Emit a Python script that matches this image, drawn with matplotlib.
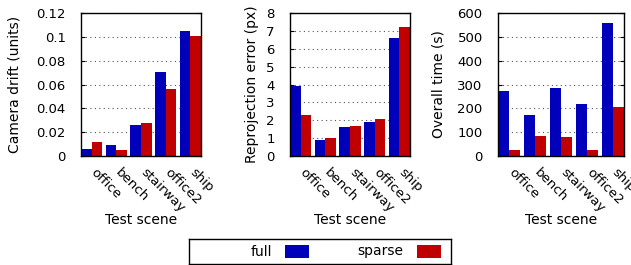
import matplotlib.pyplot as plt
import matplotlib.transforms as mtransforms
from matplotlib.patches import Rectangle

scenes = ['office', 'bench', 'stairway', 'office2', 'ship']

drift_full = [0.0061, 0.0095, 0.026, 0.0704, 0.1047]
drift_sparse = [0.012, 0.0053, 0.028, 0.056, 0.1008]

reproj_full = [3.92, 0.91, 1.6, 1.91, 6.59]
reproj_sparse = [2.3, 1.02, 1.69, 2.08, 7.2]

time_full = [274, 173, 287, 220, 559]
time_sparse = [27, 85, 81, 27, 207]

series_names = ['full', 'sparse']

blue = '#0000bb'
red = '#c00000'

plt.rcParams['font.size'] = 9.5
plt.rcParams['font.family'] = 'DejaVu Sans'

fig = plt.figure(figsize=(6.31, 2.65), dpi=100)
W, H = 631., 265.

# axes boxes in pixels (left, right) and y-label centre
boxes = [(81, 201, 15), (290, 410, 252), (498, 624, 438)]
top, bottom = 13, 156

panels = [
	(drift_full, drift_sparse, 'Camera drift (units)', (0, 0.12), [0, 0.02, 0.04, 0.06, 0.08, 0.1, 0.12],
	 ['0', '0.02', '0.04', '0.06', '0.08', '0.1', '0.12']),
	(reproj_full, reproj_sparse, 'Reprojection error (px)', (0, 8), list(range(0, 9)),
	 [str(v) for v in range(0, 9)]),
	(time_full, time_sparse, 'Overall time (s)', (0, 600), list(range(0, 601, 100)),
	 [str(v) for v in range(0, 601, 100)]),
]

w = 0.43
x = list(range(len(scenes)))
# gnuplot-like rotated scene labels: offset from the group centre below the axis
shift = mtransforms.ScaledTranslation(6 / 100., -10 / 100., fig.dpi_scale_trans)
for (l, r, yl), (full, sparse, ylab, ylim, yt, ytl) in zip(boxes, panels):
	aw = r - l
	ax = fig.add_axes([l / W, 1 - bottom / H, aw / W, (bottom - top) / H])
	ax.bar([i - w / 2 for i in x], full, width=w, color=blue, zorder=3)
	ax.bar([i + w / 2 for i in x], sparse, width=w, color=red, zorder=3)
	ax.set_xlim(-w, len(scenes) - 1 + w)
	ax.set_ylim(*ylim)
	ax.set_yticks(yt)
	ax.set_yticklabels(ytl)
	ax.set_xticks(x)
	ax.set_xticklabels([])
	for i, name in zip(x, scenes):
		ax.text(i, 0, name, rotation=-45, ha='left', va='top', rotation_mode='anchor',
		        transform=ax.get_xaxis_transform() + shift, clip_on=False)
	ax.tick_params(axis='x', length=0, pad=5)
	ax.tick_params(axis='y', direction='in', right=True, length=3, pad=11)
	ax.yaxis.grid(True, linestyle=(0, (1, 3)), color='#555555', linewidth=0.8, zorder=0)
	ax.set_ylabel(ylab, va='center', fontsize=10)
	ax.yaxis.set_label_coords((yl - l) / aw, 0.5)
	ax.set_xlabel('Test scene', va='center', fontsize=10)
	ax.xaxis.set_label_coords(0.5, -(220 - bottom) / (bottom - top))
	for s in ax.spines.values():
		s.set_linewidth(1.0)
		s.set_zorder(4)

# legend box drawn by hand, gnuplot style (text then sample)
lx0, lx1, ly0, ly1 = 189, 451, 239, 264
lax = fig.add_axes([lx0 / W, 1 - ly1 / H, (lx1 - lx0) / W, (ly1 - ly0) / H])
lax.set_xlim(lx0, lx1)
lax.set_ylim(ly1, ly0)
lax.set_xticks([])
lax.set_yticks([])
for s in lax.spines.values():
	s.set_linewidth(1.0)
entries = [(series_names[0], blue, 272, 285), (series_names[1], red, 403, 417)]
for name, col, tx, sx in entries:
	lax.text(tx, 251.5, name, ha='right', va='center', fontsize=10)
	lax.add_patch(Rectangle((sx, 245), 24, 13, facecolor=col, edgecolor='none'))

plt.savefig('out.png', dpi=100)
